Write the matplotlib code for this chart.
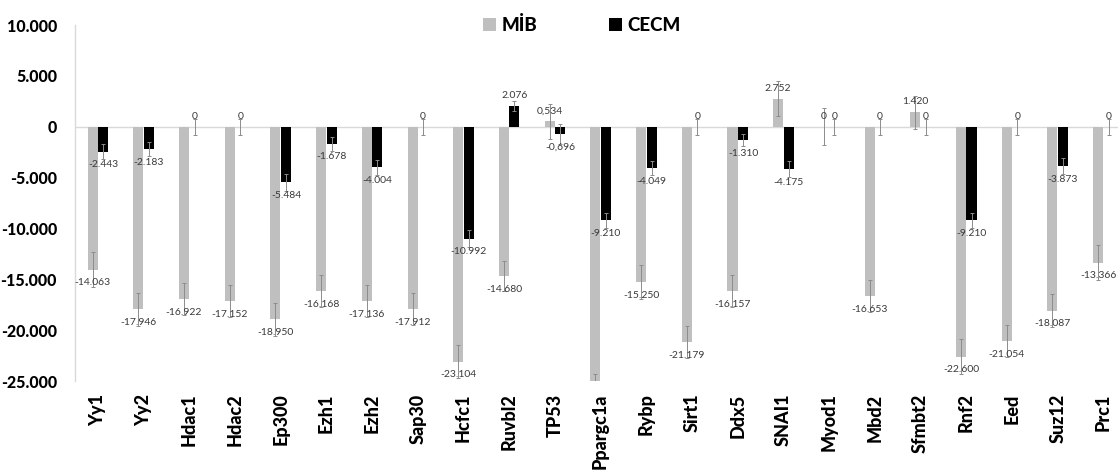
import matplotlib
matplotlib.use("Agg")
import matplotlib.pyplot as plt
from matplotlib.patches import Patch
import numpy as np

plt.rcParams['font.family'] = ['Lato', 'DejaVu Sans']

categories = ["Yy1", "Yy2", "Hdac1", "Hdac2", "Ep300", "Ezh1", "Ezh2", "Sap30", "Hcfc1",
              "Ruvbl2", "TP53", "Ppargc1a", "Rybp", "Sirt1", "Ddx5", "SNAI1", "Myod1",
              "Mbd2", "Sfmbt2", "Rnf2", "Eed", "Suz12", "Prc1"]

mib_values = [-14.063, -17.946, -16.922, -17.152, -18.950, -16.168, -17.136, -17.912, -23.104,
              -14.680, 0.534, -25.6, -15.250, -21.179, -16.157, 2.752, 0, -16.653, 1.420,
              -22.600, -21.054, -18.087, -13.366]
cecm_values = [-2.443, -2.183, 0, 0, -5.484, -1.678, -4.004, 0, -10.992, 2.076, -0.696, -9.210,
               -4.049, 0, -1.310, -4.175, 0, 0, 0, -9.210, 0, -3.873, 0]

mib_err = [1.7, 1.6, 1.6, 1.6, 1.6, 1.6, 1.6, 1.6, 1.6, 1.5, 1.7, 1.3, 1.7, 1.6, 1.6, 1.7, 1.8,
           1.6, 1.6, 1.7, 1.6, 1.6, 1.7]
cecm_err = [0.7, 0.7, 0.8, 0.8, 0.8, 0.7, 0.7, 0.8, 0.8, 0.5, 1.0, 0.7, 0.7, 0.8, 0.6, 0.8, 0.8,
            0.8, 0.8, 0.7, 0.8, 0.8, 0.8]

label_overrides = {("MİB", "TP53"): "0,534", ("CECM", "TP53"): "-0,696"}

yticks = [10, 5, 0, -5, -10, -15, -20, -25]
ytick_labels = ["10.000", "5.000", "0", "-5.000", "-10.000", "-15.000", "-20.000", "-25.000"]

GRAY = "#BFBFBF"
BLACK = "#000000"

fig = plt.figure(figsize=(11.18, 4.70), dpi=100)
ax = fig.add_axes([75 / 1118, 1 - 381 / 470, 1 - 75 / 1118, (381 - 25) / 470])

x = np.arange(len(categories))
w = 0.22
off = 0.115
ymin, ymax = -25, 10

ax.bar(x - off, mib_values, w, color=GRAY, zorder=2)
ax.bar(x + off, cecm_values, w, color=BLACK, zorder=2)
ax.errorbar(x - off, mib_values, yerr=mib_err, fmt='none', ecolor="#8c8c8c", elinewidth=0.7,
            capsize=1.2, capthick=0.7, zorder=3)
ax.errorbar(x + off, cecm_values, yerr=cecm_err, fmt='none', ecolor="#8c8c8c", elinewidth=0.7,
            capsize=1.2, capthick=0.7, zorder=3)


def fmt(v):
    if v == 0:
        return "0"
    return f"{v:.3f}"


for name, vals, sgn in (("MİB", mib_values, -1), ("CECM", cecm_values, 1)):
    for i, v in enumerate(vals):
        if v < ymin or v > ymax:
            continue
        txt = label_overrides.get((name, categories[i]), fmt(v))
        dy = -9.5 if v < 0 else 7.5
        ax.annotate(txt, (x[i] + sgn * off, v), xytext=(0, dy), textcoords="offset points",
                    ha="center", va="center", fontsize=7.5, color="#3a3a3a", zorder=4)

ax.axhline(0, color="#D9D9D9", lw=1, zorder=1)
ax.set_xlim(-0.5, 22.32)
ax.set_ylim(ymin, ymax)
ax.set_yticks(yticks)
ax.set_yticklabels(ytick_labels, fontsize=11.5, fontweight="black")
ax.set_xticks(x)
ax.set_xticklabels(categories, rotation=90, fontsize=13, fontweight="black")
ax.tick_params(axis="both", length=0)
ax.tick_params(axis="y", pad=13)
ax.tick_params(axis="x", pad=9)
for s in ("top", "right", "bottom"):
    ax.spines[s].set_visible(False)
ax.spines["left"].set_color("#D9D9D9")
ax.spines["left"].set_linewidth(1)

handles = [Patch(facecolor=GRAY, label="MİB"), Patch(facecolor=BLACK, label="CECM")]
fig.legend(handles=handles, loc="center", bbox_to_anchor=(582 / 1118, 1 - 25 / 470), ncol=2,
           frameon=False, handlelength=0.7, handleheight=0.7, handletextpad=0.3,
           columnspacing=3.8, prop={"weight": "black", "size": 13.5})

fig.savefig("out.png", dpi=100)
